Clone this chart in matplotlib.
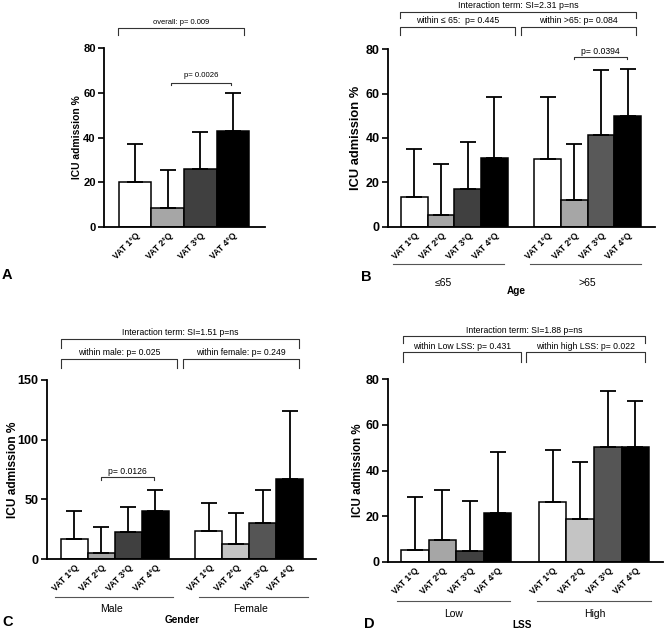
import numpy as np
import matplotlib
matplotlib.use("Agg")
import matplotlib.pyplot as plt
from matplotlib.transforms import blended_transform_factory

plt.rcParams['font.family'] = ['Liberation Sans', 'DejaVu Sans']

# data (bar height and top of the error bar)
vat_labels = ["VAT 1°Q", "VAT 2°Q", "VAT 3°Q", "VAT 4°Q"]

a_mean = [20.0, 8.6, 25.7, 43.1]
a_upper = [36.9, 25.3, 42.5, 59.8]

b_le65_mean = [13.5, 5.3, 17.1, 30.8]
b_le65_upper = [34.9, 28.1, 38.0, 58.3]
b_gt65_mean = [30.7, 12.2, 41.5, 50.1]
b_gt65_upper = [58.3, 37.1, 70.5, 71.1]

c_male_mean = [16.5, 5.0, 22.3, 40.5]
c_male_upper = [39.9, 27.1, 43.9, 58.1]
c_female_mean = [23.5, 12.8, 30.4, 66.8]
c_female_upper = [47.2, 38.5, 58.1, 123.7]

d_low_mean = [5.1, 9.5, 4.7, 21.5]
d_low_upper = [28.2, 31.4, 26.5, 48.2]
d_high_mean = [26.2, 18.6, 50.1, 50.1]
d_high_upper = [49.1, 43.7, 75.0, 70.3]

colors_1 = ["white", "#a6a6a6", "#404040", "black"]
colors_2 = ["white", "#c4c4c4", "#555555", "black"]

fig = plt.figure(figsize=(6.64, 6.31), dpi=100)


def px_axes(left, right, top, bottom):
    return fig.add_axes([left / 664, 1 - bottom / 631, (right - left) / 664, (bottom - top) / 631])


def draw_bars(ax, xs, means, uppers, colors):
    means = np.array(means)
    err = np.array(uppers) - means
    ax.bar(xs, means, width=1.0, color=colors, edgecolor="black", linewidth=1.1, zorder=2)
    ax.errorbar(xs, means, yerr=[np.zeros(len(xs)), err], fmt="none", ecolor="black",
                elinewidth=1.3, capsize=5.5, capthick=1.3, zorder=3)


def style_axes(ax, xs, labels, xlim, ylim, yticks, tick_fs, ylab_fs, ylab_off):
    for s in ["top", "right"]:
        ax.spines[s].set_visible(False)
    for s in ["left", "bottom"]:
        ax.spines[s].set_linewidth(1.3)
    ax.set_xlim(*xlim)
    ax.set_ylim(*ylim)
    ax.set_yticks(yticks)
    ax.tick_params(axis="y", direction="out", length=4, width=1.2, labelsize=tick_fs, pad=2)
    for t in ax.get_yticklabels():
        t.set_fontweight("bold")
    ax.set_xticks(xs)
    ax.set_xticklabels(labels, rotation=45, ha="right", rotation_mode="anchor",
                       fontsize=6.2, fontweight="bold")
    ax.tick_params(axis="x", length=0, pad=3)
    ax.text(ylab_off, 0.5, "ICU admission %", transform=ax.transAxes, rotation=90,
            ha="center", va="center", fontsize=ylab_fs, fontweight="bold")


def bracket(ax, x0, x1, y, drop, text, ty, fs=6.0, data=False):
    if data:
        tr = ax.transData
    else:
        tr = blended_transform_factory(ax.transData, ax.transAxes)
    ax.plot([x0, x0, x1, x1], [y - drop, y, y, y - drop], color="#333333", lw=0.8,
            transform=tr, clip_on=False)
    ax.text((x0 + x1) / 2, ty, text, transform=tr, ha="center", va="center", fontsize=fs)


def group_axis(ax, spans, names, centers, line_y, label_y, title, title_x, title_y):
    tr = blended_transform_factory(ax.transData, ax.transAxes)
    for x0, x1 in spans:
        ax.plot([x0, x1], [line_y, line_y], color="#555555", lw=0.8, transform=tr, clip_on=False)
    for c, n in zip(centers, names):
        ax.text(c, label_y, n, transform=tr, ha="center", va="center", fontsize=7.5)
    ax.text(title_x, title_y, title, transform=tr, ha="center", va="center",
            fontsize=7.2, fontweight="bold")


g1 = [0, 1, 2, 3]
g2 = [5, 6, 7, 8]

# ---- A
axA = px_axes(104, 265, 48, 227)
draw_bars(axA, g1, a_mean, a_upper, colors_1)
style_axes(axA, g1, vat_labels, (-0.96, 3.99), (0, 80), [0, 20, 40, 60, 80], 8, 7.4, -0.168)
bracket(axA, -0.53, 3.35, 1.112, 0.039, "overall: p= 0.009", 1.14, fs=5.4)
bracket(axA, 1.1, 2.96, 64.4, 0.9, "p= 0.0026", 67.5, fs=5.6, data=True)

# ---- B
axB = px_axes(388, 655, 49.3, 226.7)
draw_bars(axB, g1, b_le65_mean, b_le65_upper, colors_1)
draw_bars(axB, g2, b_gt65_mean, b_gt65_upper, ["white", "#a6a6a6", "#595959", "black"])
style_axes(axB, g1 + g2, vat_labels * 2, (-0.99, 9.02), (0, 80), [0, 20, 40, 60, 80], 9, 9.3, -0.12)
bracket(axB, -0.54, 8.31, 1.213, 0.039, "Interaction term: SI=2.31 p=ns", 1.247, fs=6.4)
bracket(axB, -0.54, 3.77, 1.124, 0.045, "within ≤ 65:  p= 0.445", 1.163, fs=6.3)
bracket(axB, 4.0, 8.31, 1.124, 0.045, "within >65: p= 0.084", 1.163, fs=6.3)
bracket(axB, 5.99, 7.97, 76.5, 0.9, "p= 0.0394", 78.9, fs=6.2, data=True)
group_axis(axB, [(-0.8, 3.36), (4.34, 8.5)], ["≤65", ">65"], [1.07, 6.47],
           -0.213, -0.315, "Age", 3.81, -0.36)

# ---- C
axC = px_axes(47, 316, 380, 559)
draw_bars(axC, g1, c_male_mean, c_male_upper, colors_1)
draw_bars(axC, g2, c_female_mean, c_female_upper, colors_2)
style_axes(axC, g1 + g2, vat_labels * 2, (-1.02, 8.98), (0, 150), [0, 50, 100, 150], 9, 8.6, -0.126)
bracket(axC, -0.5, 8.35, 1.229, 0.05, "Interaction term: SI=1.51 p=ns", 1.263, fs=6.2)
bracket(axC, -0.5, 3.81, 1.117, 0.05, "within male: p= 0.025", 1.151, fs=6.2)
bracket(axC, 4.03, 8.35, 1.117, 0.05, "within female: p= 0.249", 1.151, fs=6.2)
bracket(axC, 0.99, 2.97, 69.0, 2.8, "p= 0.0126", 73.2, fs=6.2, data=True)
group_axis(axC, [(-0.72, 3.68), (4.63, 8.7)], ["Male", "Female"], [1.38, 6.53],
           -0.211, -0.281, "Gender", 3.99, -0.341)

# ---- D
axD = px_axes(388, 663, 379.3, 561.7)
draw_bars(axD, g1, d_low_mean, d_low_upper, colors_1)
draw_bars(axD, g2, d_high_mean, d_high_upper, colors_2)
style_axes(axD, g1 + g2, vat_labels * 2, (-0.97, 9.0), (0, 80), [0, 20, 40, 60, 80], 9, 8.3, -0.11)
bracket(axD, -0.42, 8.34, 1.237, 0.04, "Interaction term: SI=1.88 p=ns", 1.270, fs=6.2)
bracket(axD, -0.42, 3.85, 1.148, 0.052, "within Low LSS: p= 0.431", 1.179, fs=6.2)
bracket(axD, 4.05, 8.34, 1.148, 0.052, "within high LSS: p= 0.022", 1.179, fs=6.2)
group_axis(axD, [(-0.66, 3.45), (4.42, 8.55)], ["Low", "High"], [1.39, 6.53],
           -0.215, -0.287, "LSS", 3.91, -0.347)

# panel letters
for letter, x, y in [("A", 7, 275), ("B", 366, 277), ("C", 8, 622), ("D", 369, 624)]:
    fig.text(x / 664, 1 - y / 631, letter, ha="center", va="center", fontsize=10.5, fontweight="bold")

fig.savefig("out.png", dpi=100)
